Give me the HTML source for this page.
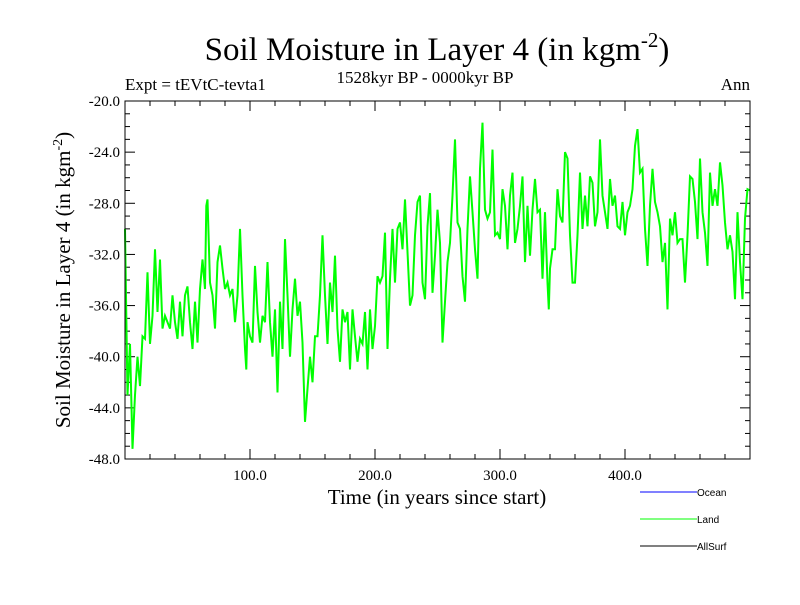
<!DOCTYPE html>
<html><head><meta charset="utf-8"><style>
body{margin:0;background:#fff}
svg text{font-family:"Liberation Serif",serif}
</style></head><body>
<svg id="c" width="800" height="600" xmlns="http://www.w3.org/2000/svg">
<rect width="800" height="600" fill="#fff"/>
<text x="437" y="60" font-size="33" text-anchor="middle">Soil Moisture in Layer 4 (in kgm<tspan dy="-13" font-size="21">-2</tspan><tspan dy="13">)</tspan></text>
<text x="125" y="90" font-size="17">Expt = tEVtC-tevta1</text>
<text x="425" y="83" font-size="17" text-anchor="middle">1528kyr BP - 0000kyr BP</text>
<text x="750" y="90" font-size="17" text-anchor="end">Ann</text>
<text x="437" y="504" font-size="21" text-anchor="middle">Time (in years since start)</text>
<text transform="translate(70,280) rotate(-90)" font-size="21" text-anchor="middle">Soil Moisture in Layer 4 (in kgm<tspan dy="-8" font-size="14">-2</tspan><tspan dy="8">)</tspan></text>
<g id="ticks"></g>
<path id="land" fill="none" stroke="#00ff00" stroke-width="2"/>
<rect x="125" y="101" width="625" height="358" fill="none" stroke="#000" stroke-width="1"/>
<g shape-rendering="crispEdges">
<line x1="640" y1="492" x2="697" y2="492" stroke="#0000ff"/>
<text x="697" y="496" style="font-family:'Liberation Sans',sans-serif" font-size="10">Ocean</text>
<line x1="640" y1="519" x2="697" y2="519" stroke="#00ff00"/>
<text x="697" y="523" style="font-family:'Liberation Sans',sans-serif" font-size="10">Land</text>
<line x1="640" y1="546" x2="697" y2="546" stroke="#000"/>
<text x="697" y="550" style="font-family:'Liberation Sans',sans-serif" font-size="10">AllSurf</text>
</g>
</svg>
<script>
const years=[0,2,4,6,8,10,12,14,16,18,20,22,24,26,28,30,32,34,36,38,40,42,44,46,48,50,52,54,56,58,60,62,64,65,66,68,70,72,74,76,78,80,82,84,86,88,90,92,94,96,97,98,100,102,104,106,108,110,112,114,116,118,120,122,124,126,128,130,132,134,136,138,140,142,144,146,148,150,152,154,156,158,160,162,164,166,168,170,172,174,176,178,180,182,184,186,188,190,192,194,196,198,200,202,204,206,208,210,212,214,216,218,220,222,224,226,228,230,232,234,236,238,240,242,244,246,248,250,252,254,256,258,260,262,264,266,268,270,272,274,276,278,280,282,284,286,288,290,292,294,296,298,300,302,304,306,308,310,312,314,316,318,320,322,324,326,328,330,332,334,336,338,339,340,342,344,346,348,350,352,354,356,358,360,362,364,366,368,370,372,374,376,378,380,382,384,386,388,390,392,394,396,398,400,402,404,406,408,410,412,414,416,418,420,422,424,426,428,430,432,434,436,438,440,442,444,446,448,450,452,454,456,458,460,462,464,466,468,470,472,474,476,478,480,482,484,486,488,490,492,494,496,498,500];
const landValues=[-30,-43,-39,-47.2,-43,-40,-42.3,-38.4,-38.6,-33.4,-39,-36.8,-31.6,-36.5,-32.4,-37.8,-36.8,-37.3,-37.8,-35.2,-37.3,-38.6,-35.7,-38.4,-35.2,-34.5,-37.3,-39.4,-35.7,-38.9,-34.7,-32.4,-34.7,-28.2,-27.7,-34.2,-35.2,-37.8,-32.6,-31.3,-33.1,-34.7,-34.2,-35.2,-34.7,-37.3,-35.2,-30,-35.2,-39.4,-41,-37.3,-38.4,-38.9,-32.9,-36.5,-38.9,-36.8,-37.3,-32.6,-37.3,-40,-36.3,-42.8,-35.7,-39.4,-30.8,-35.2,-40,-36.3,-33.9,-36.8,-35.7,-38.9,-45.1,-42.5,-40,-42,-38.4,-38.4,-35.2,-30.5,-35.2,-39,-34.2,-36.5,-32.1,-37.8,-40.4,-36.3,-37.3,-36.5,-41,-36.3,-38.4,-40.4,-38.6,-39,-36.5,-41,-36.3,-39.4,-37.6,-33.7,-34.2,-33.7,-30.3,-39.4,-33.9,-30,-34.2,-30,-29.5,-31.6,-27.7,-31.8,-36,-35.2,-30.5,-27.9,-27.4,-34.2,-35.5,-29.8,-27.2,-35,-32.1,-28.5,-31.1,-38.9,-35.7,-32.6,-31.1,-27.4,-23,-29.5,-30,-33.7,-35.7,-30,-25.9,-28.7,-31.6,-33.9,-25.3,-21.7,-28.5,-29.2,-28.7,-23.8,-30.5,-30.3,-30.8,-26.9,-28.2,-31.6,-27.4,-25.6,-31.1,-30,-28.2,-25.9,-32.6,-28.2,-32.1,-28.5,-26.1,-28.7,-28.5,-33.9,-28.7,-34.2,-36.3,-33.1,-31.6,-31.6,-26.9,-29,-29.5,-24,-24.5,-30.5,-34.2,-34.2,-30.5,-25.6,-30,-27.4,-29.8,-25.9,-26.4,-29.8,-28.7,-23,-27.4,-28.7,-30,-26.1,-28.2,-27.4,-29.8,-30,-27.9,-30.5,-28.7,-28.2,-26.9,-23.5,-22.2,-25.6,-25.3,-30,-32.9,-28.2,-25.3,-27.9,-28.7,-29.8,-32.6,-31.1,-36.3,-29.2,-30.5,-28.7,-31.1,-30.8,-30.8,-34.2,-30.5,-25.9,-26.1,-27.9,-30.8,-24.5,-28.7,-30.3,-32.9,-25.6,-28.2,-26.9,-28.2,-24.8,-26.6,-29.5,-31.6,-30.5,-31.8,-35.5,-28.7,-32.6,-35.5,-29.2,-26.9,-27];
const xTickValues=[100,200,300,400];
const xTickLabels=["100.0","200.0","300.0","400.0"];
const yTickValues=[-48,-44,-40,-36,-32,-28,-24,-20];
const yTickLabels=["-48.0","-44.0","-40.0","-36.0","-32.0","-28.0","-24.0","-20.0"];
const X0=125,X1=750,Y0=459,Y1=101,XMIN=0,XMAX=500,YMIN=-48,YMAX=-20;
const sx=v=>X0+(v-XMIN)/(XMAX-XMIN)*(X1-X0);
const sy=v=>Y0-(v-YMIN)/(YMAX-YMIN)*(Y0-Y1);
const NS="http://www.w3.org/2000/svg";
const g=document.getElementById('ticks');
function ln(x1,y1,x2,y2,name){const l=document.createElementNS(NS,'line');l.setAttribute('x1',x1);l.setAttribute('y1',y1);l.setAttribute('x2',x2);l.setAttribute('y2',y2);l.setAttribute('stroke','#000');


g.appendChild(l);}
function tx(x,y,s,anchor,name){const t=document.createElementNS(NS,'text');t.setAttribute('x',x);t.setAttribute('y',y);t.setAttribute('font-size','15');t.setAttribute('text-anchor',anchor);t.textContent=s;


g.appendChild(t);}
for(let v=XMIN+20;v<XMAX;v+=20){const x=sx(v);const L=(v%100===0)?10:5;ln(x,Y0,x,Y0-L,'x-tick');ln(x,Y1,x,Y1+L,'x-tick-top');}
for(let v=YMIN+1;v<YMAX;v++){const y=sy(v);const L=(v%4===0)?10:5;ln(X0,y,X0+L,y,'y-tick');ln(X1,y,X1-L,y,'y-tick-right');}
xTickValues.forEach((v,i)=>tx(sx(v),Y0+21,xTickLabels[i],'middle','x-tick-label'));
yTickValues.forEach((v,i)=>tx(X0-5,sy(v)+5,yTickLabels[i],'end','y-tick-label'));
document.getElementById('land').setAttribute('d',years.map((t,i)=>(i?'L':'M')+sx(t).toFixed(1)+','+sy(landValues[i]).toFixed(1)).join(''));
</script>
</body></html>
